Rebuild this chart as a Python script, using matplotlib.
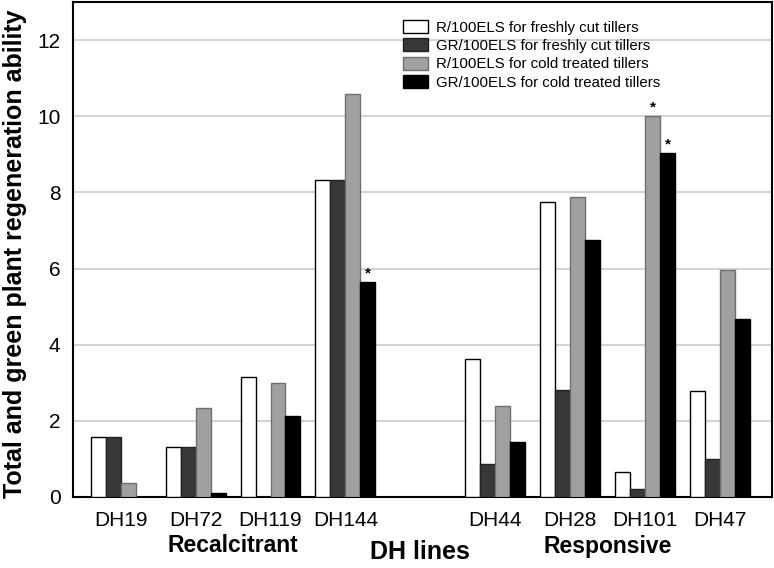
import matplotlib
matplotlib.use('Agg')
import matplotlib.pyplot as plt
import numpy as np
from matplotlib.transforms import blended_transform_factory

lines = ['DH19', 'DH72', 'DH119', 'DH144', 'DH44', 'DH28', 'DH101', 'DH47']
slots = [0, 1, 2, 3, 5, 6, 7, 8]   # empty slot between the two groups

r_fresh = [1.58, 1.32, 3.14, 8.32, 3.63, 7.76, 0.66, 2.78]
gr_fresh = [1.57, 1.32, 0.0, 8.32, 0.86, 2.81, 0.20, 1.00]
r_cold = [0.38, 2.33, 3.00, 10.59, 2.40, 7.89, 10.00, 5.95]
gr_cold = [0.0, 0.11, 2.14, 5.65, 1.45, 6.74, 9.03, 4.68]

series = [
    ('R/100ELS for freshly cut tillers', r_fresh, 'white', 'black'),
    ('GR/100ELS for freshly cut tillers', gr_fresh, '#383838', '#222222'),
    ('R/100ELS for cold treated tillers', r_cold, '#a0a0a0', '#6e6e6e'),
    ('GR/100ELS for cold treated tillers', gr_cold, 'black', 'black'),
]
# (series index, line index) marked with *
stars = [(3, 3), (2, 6), (3, 6)]

groups = [('Recalcitrant', 1.5), ('Responsive', 6.5)]

plt.rcParams['font.family'] = ['Liberation Sans', 'DejaVu Sans']

fig = plt.figure(figsize=(7.74, 5.68), dpi=100)
ax = fig.add_axes([73/774, 71/568, 699/774, 495/568])

w = 0.2
x = np.array(slots, dtype=float)
for i, (lab, vals, fc, ec) in enumerate(series):
    ax.bar(x + (i - 1.5) * w, vals, width=w, color=fc, edgecolor=ec,
           linewidth=1.0, label=lab, zorder=3)

for si, li in stars:
    ax.annotate('*', (x[li] + (si - 1.5) * w, series[si][1][li]),
                xytext=(0, 1), textcoords='offset points', ha='center',
                va='bottom', fontsize=11, fontweight='bold', zorder=4)

ax.set_xlim(-0.636, 8.693)
ax.set_ylim(0, 13)
ax.set_yticks(range(0, 13, 2))
ax.set_xticks(x)
ax.set_xticklabels(lines)
ax.tick_params(axis='both', length=0, labelsize=15)
ax.tick_params(axis='y', pad=9)
ax.tick_params(axis='x', pad=10)
ax.grid(axis='y', color='#d4d4d4', linewidth=1.5, zorder=0)
ax.set_axisbelow(True)
for sp in ax.spines.values():
    sp.set_linewidth(1.5)

fig.text(15/774, 1 - 254/568, 'Total and green plant regeneration ability',
         rotation=90, ha='center', va='center', fontsize=18,
         fontweight='bold')

tr = blended_transform_factory(ax.transData, fig.transFigure)
for name, xc in groups:
    ax.text(xc, 1 - 546/568, name, transform=tr, ha='center', va='center',
            fontsize=16.5, fontweight='bold')
ax.text(4, 1 - 552/568, 'DH lines', transform=tr, ha='center', va='center',
        fontsize=18, fontweight='bold')

ax.legend(loc='upper left', bbox_to_anchor=(330/699, 1 - 18/495),
          frameon=False, fontsize=10.8, handlelength=1.67, handleheight=0.93,
          handletextpad=0.53, labelspacing=0.26, borderpad=0, borderaxespad=0)

fig.savefig('out.png', dpi=100)
